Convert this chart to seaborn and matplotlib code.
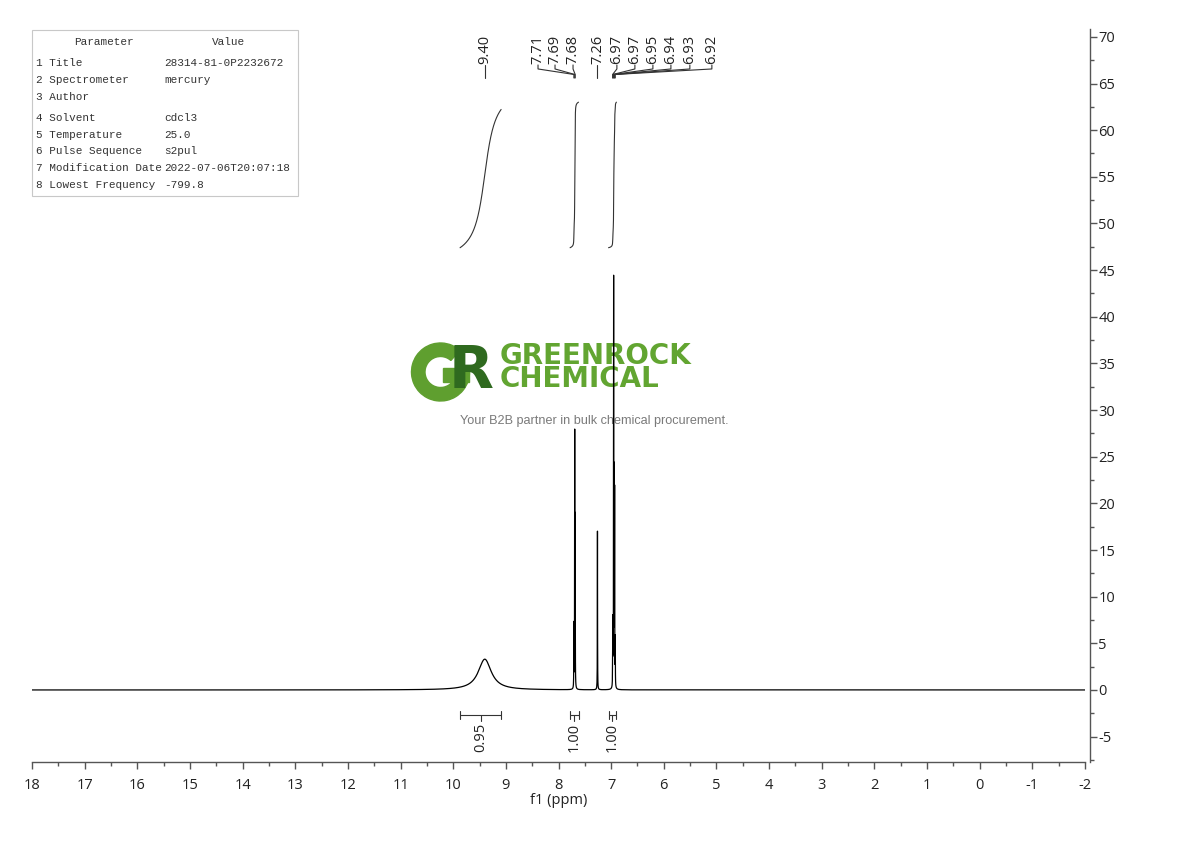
import numpy as np
import pandas as pd
import matplotlib
matplotlib.use("Agg")
import matplotlib.pyplot as plt
import seaborn as sns
from matplotlib.patches import Wedge, Rectangle
from matplotlib.ticker import MultipleLocator

# ---------------- data ----------------
peak_ppm    = [9.400, 7.708, 7.692, 7.683, 7.260, 6.972, 6.966, 6.953, 6.944, 6.934, 6.922]
peak_height = [3.3,   6.8,   27.0,  17.7,  17.0,  3.0,   6.5,   43.0,  21.5,  20.5,  5.0]
peak_fwhm   = [0.30,  0.004, 0.004, 0.004, 0.004, 0.004, 0.004, 0.004, 0.004, 0.004, 0.004]
peak_labels = ["9.40", "7.71", "7.69", "7.68", "7.26", "6.97", "6.97", "6.95", "6.94", "6.93", "6.92"]

integ_from  = [9.87, 7.78, 7.05]
integ_to    = [9.09, 7.62, 6.90]
integ_value = [0.95, 1.00, 1.00]
integ_text  = ["0.95", "1.00", "1.00"]

param_names  = ["1 Title", "2 Spectrometer", "3 Author", "4 Solvent", "5 Temperature",
                "6 Pulse Sequence", "7 Modification Date", "8 Lowest Frequency"]
param_values = ["28314-81-0P2232672", "mercury", "", "cdcl3", "25.0", "s2pul",
                "2022-07-06T20:07:18", "-799.8"]

x_ticks = list(range(-2, 19))
y_ticks = list(range(-5, 71, 5))

# ---------------- layout (not data) ----------------
W, H = 1190, 841
label_x = [9.40, 8.389, 8.066, 7.724, 7.26, 6.891, 6.549, 6.207, 5.865, 5.505, 5.087]
row_y = [63, 80, 97, 118, 135, 151, 168, 185]

sns.set_theme(style="white")
plt.rcParams["font.family"] = ["Open Sans", "DejaVu Sans"]

fig = plt.figure(figsize=(W / 100, H / 100), dpi=100)

# ---- watermark logo (below the spectrum) ----
lx0, ly0, lw_, lh_ = 400, 330, 340, 100
ax_logo = fig.add_axes([lx0 / W, 1 - (ly0 + lh_) / H, lw_ / W, lh_ / H], zorder=1)
ax_logo.set_xlim(lx0, lx0 + lw_)
ax_logo.set_ylim(H - (ly0 + lh_), H - ly0)
ax_logo.axis("off")
g_col, r_col = "#5f9f2f", "#2f6a1f"
ax_logo.add_patch(Wedge((440.5, H - 372), 29, 48, 360, width=13.5, color=g_col))
ax_logo.add_patch(Rectangle((443, H - 382), 26, 14, color=g_col))
ax_logo.text(449, H - 388, "R", fontsize=42, fontweight="bold", color=r_col,
             family="DejaVu Sans", ha="left", va="baseline")
ax_logo.text(500, H - 387, "GREENROCK\nCHEMICAL", fontsize=20, fontweight="bold",
             color="#62a531", family="DejaVu Sans", ha="left", va="baseline",
             linespacing=0.78, multialignment="left")
ax_logo.text(594.5, H - 421, "Your B2B partner in bulk chemical procurement.", fontsize=9.1,
             color="#7a7a7a", family="Liberation Sans", ha="center", va="center")

# ---- main axes ----
ax = fig.add_axes([32 / W, (H - 761.8) / H, (1085 - 32) / W, 732.4 / H], zorder=2)
ax.patch.set_alpha(0)

ppm = np.linspace(-2.0, 18.0, 40001)
intensity = np.zeros_like(ppm)
for p, h, w in zip(peak_ppm, peak_height, peak_fwhm):
    intensity += h / (1.0 + ((ppm - p) / (w / 2.0)) ** 2)
df = pd.DataFrame({"ppm": ppm, "intensity": intensity})
sns.lineplot(data=df, x="ppm", y="intensity", ax=ax, color="black", lw=0.9,
             estimator=None, sort=False)

ax.set_xlim(18, -2)
ax.set_ylim(-7.7, 70.8)

def vy(ypx):
    return (690.0 - ypx) / 9.33

# integral curves
for a, b, val in zip(integ_from, integ_to, integ_value):
    m = (ppm <= a) & (ppm >= b)
    xs = ppm[m][::-1]
    ys = intensity[m][::-1]
    cum = np.concatenate([[0], np.cumsum(0.5 * (ys[1:] + ys[:-1]) * np.abs(np.diff(xs)))])
    curve = 47.4 + 15.6 * val * cum / cum[-1]
    ax.plot(xs, curve, color="#333333", lw=0.8)

# integration bars and values below baseline
ybar = vy(715)
for a, b, t in zip(integ_from, integ_to, integ_text):
    c = 0.5 * (a + b)
    ax.plot([a, b], [ybar, ybar], color="#333333", lw=0.8)
    ax.plot([a, a], [ybar - 0.45, ybar + 0.45], color="#333333", lw=0.8)
    ax.plot([b, b], [ybar - 0.45, ybar + 0.45], color="#333333", lw=0.8)
    ax.plot([c, c], [ybar, vy(721)], color="#333333", lw=0.8)
    ax.text(c, vy(722.5), t, rotation=90, ha="center", va="top", fontsize=10.5, color="#222222")

# peak labels with leader lines
v_bot, v_diag, v_stub, v_txt = vy(78), vy(74.5), vy(69), vy(65)
for p, lab, lxp in zip(peak_ppm, peak_labels, label_x):
    ax.plot([lxp, lxp, p, p], [v_txt, v_stub, v_diag, v_bot], color="#333333", lw=0.8)
    ax.text(lxp, v_txt + 0.05, lab, rotation=90, ha="center", va="bottom",
            fontsize=10.5, color="#222222")

# axes styling
spine_col = "#555555"
for s in ["left", "top"]:
    ax.spines[s].set_visible(False)
ax.spines["bottom"].set_color(spine_col)
ax.spines["right"].set_color(spine_col)
ax.spines["bottom"].set_linewidth(1.0)
ax.spines["right"].set_linewidth(1.0)
ax.spines["right"].set_position(("outward", 3.6))
ax.yaxis.tick_right()
ax.set_xticks(x_ticks)
ax.set_xticklabels([str(t) for t in x_ticks])
ax.xaxis.set_minor_locator(MultipleLocator(0.5))
ax.set_yticks(y_ticks)
ax.set_yticklabels([str(t) for t in y_ticks])
ax.yaxis.set_minor_locator(MultipleLocator(2.5))
ax.tick_params(axis="x", which="major", direction="out", length=5, width=1, color=spine_col,
               labelsize=10.5, labelcolor="#222222", pad=6.5, bottom=True)
ax.tick_params(axis="x", which="minor", direction="out", length=3, width=1, color=spine_col,
               bottom=True)
ax.tick_params(axis="y", which="major", direction="out", length=5, width=1, color=spine_col,
               labelsize=10.5, labelcolor="#222222", pad=1.0, right=True, left=False)
ax.tick_params(axis="y", which="minor", direction="out", length=3, width=1, color=spine_col,
               right=True, left=False)
ax.set_xlabel("f1 (ppm)", fontsize=10.5, color="#222222", labelpad=0)
ax.set_ylabel("")
ax.grid(False)

# ---- parameter table ----
tbl = Rectangle((32 / W, 1 - 196 / H), 266 / W, 166 / H, transform=fig.transFigure,
                facecolor="white", edgecolor="#c8c8c8", lw=0.8, zorder=5)
fig.add_artist(tbl)
tfont = dict(family="Liberation Mono", fontsize=7.9, color="#333333", zorder=6, va="center")
fig.text(104 / W, 1 - 42 / H, "Parameter", ha="center", **tfont)
fig.text(229 / W, 1 - 42 / H, "Value", ha="center", **tfont)
for name, val, yy in zip(param_names, param_values, row_y):
    fig.text(36 / W, 1 - yy / H, name, ha="left", **tfont)
    fig.text(164 / W, 1 - yy / H, val, ha="left", **tfont)

fig.savefig("out.png", dpi=100, facecolor="white")
